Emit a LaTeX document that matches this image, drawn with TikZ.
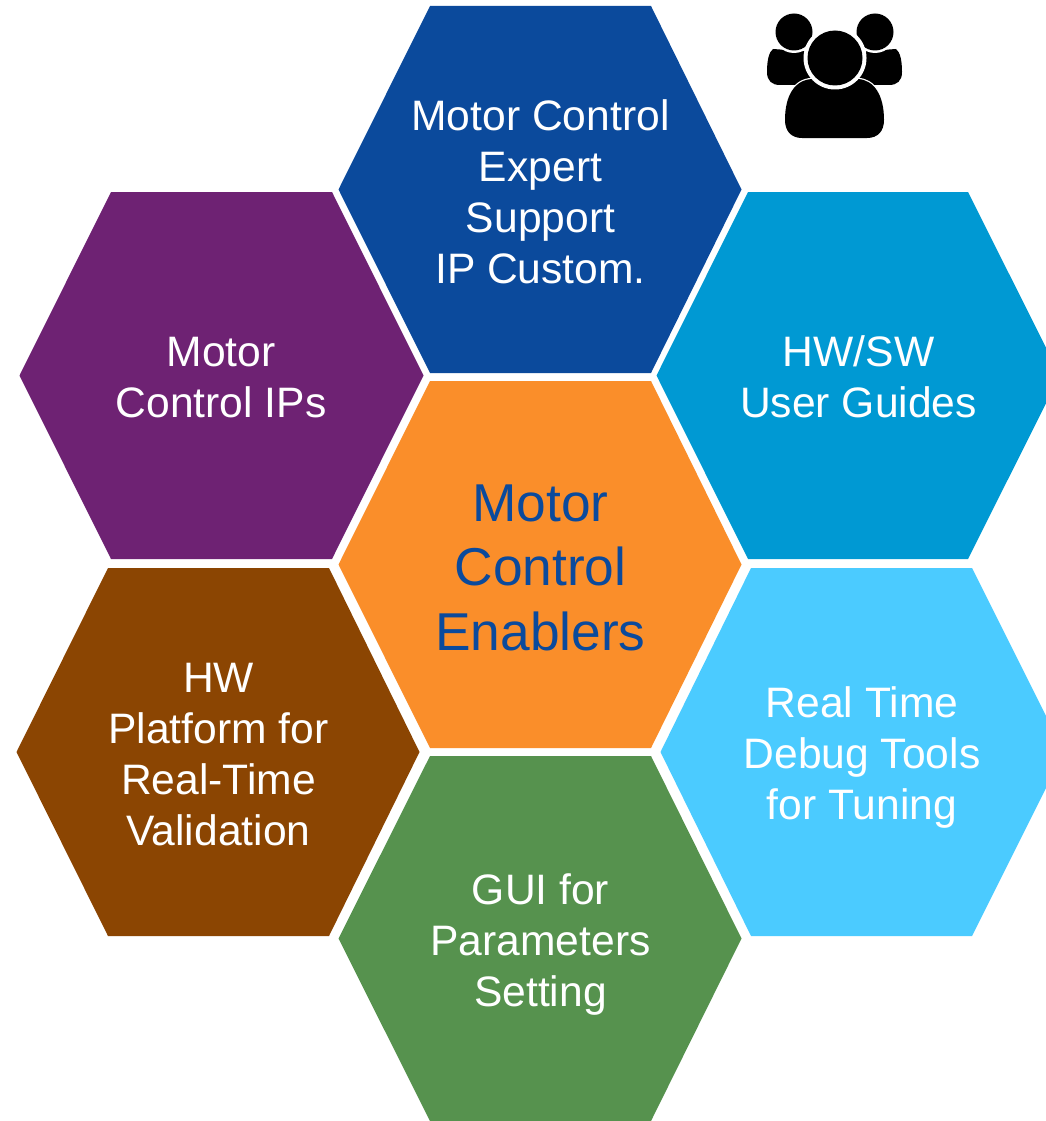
\documentclass[tikz,border=0pt]{standalone}
\usepackage{fontspec}
\setmainfont{Liberation Sans}
\definecolor{cblue}{HTML}{0B4A9C}
\definecolor{cpurple}{HTML}{6E2273}
\definecolor{csky}{HTML}{0099D3}
\definecolor{corange}{HTML}{FA8E2A}
\definecolor{cbrown}{HTML}{8B4502}
\definecolor{clight}{HTML}{4BCBFF}
\definecolor{cgreen}{HTML}{56924E}
\tikzset{x=1pt,y=-1pt,
 lab/.style={align=center,text=white,font=\fontsize{42.6}{51}\selectfont,inner sep=0pt},
 iconp/.style={fill=black,draw=none},
 ring/.style={fill=white,draw=none}}
\newcommand{\hex}[7]{% fill, xl, xa, xb, xr, yt, yb
 \fill[#1] (#2,{(#6+#7)/2}) -- (#3,#6) -- (#4,#6) -- (#5,{(#6+#7)/2}) -- (#4,#7) -- (#3,#7) -- cycle;}
\begin{document}
\begin{tikzpicture}
\useasboundingbox (0,0) rectangle (1046,1121);
\fill[white] (0,0) rectangle (1046,1121);
\hex{cblue}{338.5}{430}{651}{741.5}{6}{373}
\hex{cpurple}{19.5}{111}{332}{423.5}{192}{559}
\hex{csky}{656.5}{748}{968}{1060}{192}{559}
\hex{corange}{338.5}{430}{651}{741.5}{381}{748}
\hex{cbrown}{16.5}{108}{329}{419.5}{568}{936}
\hex{clight}{660.5}{751}{972}{1064}{568}{936}
\hex{cgreen}{338.5}{430}{651}{741.5}{756}{1121}
\fill[white] (1046,0) rectangle (1070,1121);
\node[lab] (n1) at (540.5,191.5) {Motor Control\\Expert\\Support\\IP Custom.};
\node[lab] (n2) at (221,377.5) {Motor\\Control IPs};
\node[lab] (n3) at (858.5,377) {HW/SW\\User Guides};
\node[lab,text=cblue,font=\fontsize{53.3}{64.5}\selectfont] (n4) at (540.5,567.5) {Motor\\Control\\Enablers};
\node[lab] (n5) at (218.5,755) {HW\\Platform for\\Real-Time\\Validation};
\node[lab] (n6) at (862,757) {Real Time\\Debug Tools\\for Tuning};
\node[lab] (n7) at (540.5,944.5) {GUI for\\Parameters\\Setting};
% icon
\fill[iconp] (773,49) .. controls (769,52) and (767,60) .. (767,72) .. controls (767,81) and (772,85) .. (780,85) -- (815,85) -- (815,52) -- cycle;
\fill[iconp] (896,49) .. controls (900,52) and (902,60) .. (902,72) .. controls (902,81) and (897,85) .. (889,85) -- (854,85) -- (854,52) -- cycle;
\fill[ring] (794,32) circle (21);
\fill[ring] (875,32) circle (21);
\fill[iconp] (794,32) circle (18.5);
\fill[iconp] (875,32) circle (18.5);
\filldraw[black,draw=white,line width=2.5pt] (802,138.5) .. controls (791,138.5) and (785,131) .. (785,120) .. controls (785,95) and (795,80) .. (812,79) -- (858,79) .. controls (874,80) and (884,95) .. (884,120) .. controls (884,131) and (878,138.5) .. (867,138.5) -- cycle;
\fill[iconp] (802,138) .. controls (791,138) and (785,131) .. (785,120) .. controls (785,95) and (795,80) .. (812,79) -- (858,79) .. controls (874,80) and (884,95) .. (884,120) .. controls (884,131) and (878,138) .. (867,138) -- cycle;
\fill[ring] (835,58) circle (31.5);
\fill[iconp] (835,58) circle (27.5);
\end{tikzpicture}
\end{document}
